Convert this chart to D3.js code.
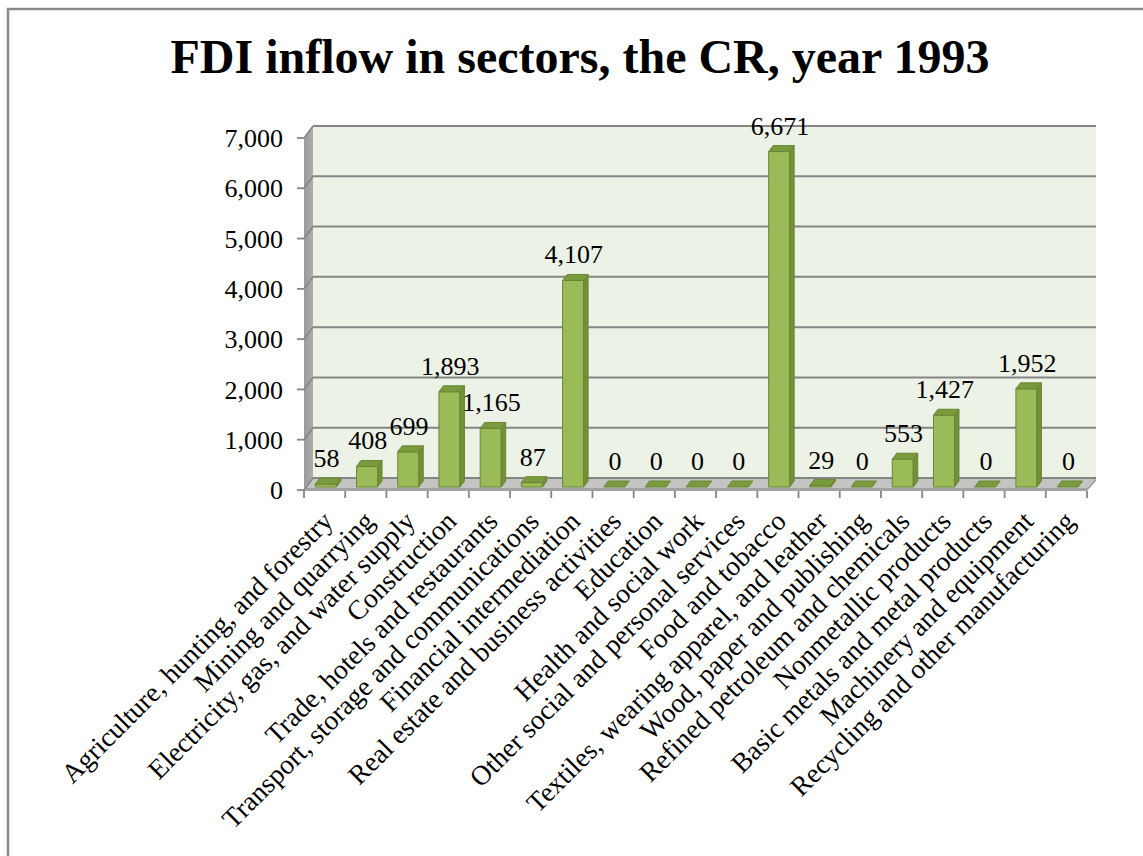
<!DOCTYPE html>
<html>
<head>
<meta charset="utf-8">
<script src="https://cdn.jsdelivr.net/npm/d3@7"></script>
<style>
  html, body { margin: 0; padding: 0; background: #ffffff; }
  svg { display: block; }
  text { font-family: "Liberation Serif", "Times New Roman", serif; fill: #000; }
</style>
</head>
<body>
<script>
// Sector categories (x axis)
const categories = [
  "Agriculture, hunting, and forestry",
  "Mining and quarrying",
  "Electricity, gas, and water supply",
  "Construction",
  "Trade, hotels and restaurants",
  "Transport, storage and communications",
  "Financial intermediation",
  "Real estate and business activities",
  "Education",
  "Health and social work",
  "Other social and personal services",
  "Food and tobacco",
  "Textiles, wearing apparel, and leather",
  "Wood, paper and publishing",
  "Refined petroleum and chemicals",
  "Nonmetallic products",
  "Basic metals and metal products",
  "Machinery and equipment",
  "Recycling and other manufacturing"
];

// FDI inflow per sector, 1993
const values = [58, 408, 699, 1893, 1165, 87, 4107, 0, 0, 0, 0, 6671, 29, 0, 553, 1427, 0, 1952, 0];

// Value axis ticks
const yTicks = [0, 1000, 2000, 3000, 4000, 5000, 6000, 7000];

const titleText = "FDI inflow in sectors, the CR, year 1993";

const W = 1143, H = 856;
const svg = d3.select("body").append("svg").attr("width", W).attr("height", H);

// Chart frame
svg.append("rect")
  .attr("x", 8).attr("y", 9).attr("width", 1160).attr("height", 870)
  .attr("fill", "#fff").attr("stroke", "#8a8a8a").attr("stroke-width", 2.5);

// Title
svg.append("text")
  .attr("x", 580).attr("y", 73)
  .attr("text-anchor", "middle")
  .style("font-size", "48px").style("font-weight", "bold")
  .text(titleText);

// Scales (front plane); depth offset for the 3D look
const xs = d3.scaleBand().domain(categories).range([304, 1087]).padding(0);
const ys = d3.scaleLinear().domain([0, 7000]).range([490, 138]);
const DX = 9, DY = -12;
const bw = xs.bandwidth();
const [xL, xR] = xs.range();

const g = svg.append("g");

// Back wall
g.append("rect")
  .attr("x", xL + DX).attr("y", ys(7000) + DY)
  .attr("width", xR - xL).attr("height", ys(0) - ys(7000))
  .attr("fill", "#edf2e7");

// Side wall
const sideGrad = svg.append("defs").append("linearGradient")
  .attr("id", "sideGrad").attr("x1", 0).attr("x2", 1).attr("y1", 0).attr("y2", 0);
sideGrad.append("stop").attr("offset", "0%").attr("stop-color", "#9a9a9a");
sideGrad.append("stop").attr("offset", "100%").attr("stop-color", "#adadad");
g.append("polygon")
  .attr("points", [
    [xL, ys(0)], [xL, ys(7000)], [xL + DX, ys(7000) + DY], [xL + DX, ys(0) + DY]
  ].map(p => p.join(",")).join(" "))
  .attr("fill", "url(#sideGrad)");

// Floor: top surface and front edge
g.append("polygon")
  .attr("points", [
    [xL, ys(0) - 2], [xR, ys(0) - 2], [xR + DX, ys(0) + DY], [xL + DX, ys(0) + DY]
  ].map(p => p.join(",")).join(" "))
  .attr("fill", "#c4c5c2");
g.append("polygon")
  .attr("points", [
    [xL, ys(0) - 2], [xR, ys(0) - 2], [xR + DX, ys(0) + DY], [xR + DX, ys(0) + DY + 3], [xR, ys(0) + 1], [xL, ys(0) + 1]
  ].map(p => p.join(",")).join(" "))
  .attr("fill", "#a2a3a0");

// Gridlines on back wall and side wall
yTicks.forEach(t => {
  g.append("line")
    .attr("x1", xL + DX).attr("x2", xR + DX)
    .attr("y1", ys(t) + DY).attr("y2", ys(t) + DY)
    .attr("stroke", "#858585").attr("stroke-width", 2);
  g.append("line")
    .attr("x1", xL).attr("x2", xL + DX)
    .attr("y1", ys(t)).attr("y2", ys(t) + DY)
    .attr("stroke", "#858585").attr("stroke-width", 1.5);
});

// Value axis ticks and labels
const fmt = d3.format(",");
yTicks.forEach(t => {
  g.append("line")
    .attr("x1", xL - 7).attr("x2", xL)
    .attr("y1", ys(t)).attr("y2", ys(t))
    .attr("stroke", "#858585").attr("stroke-width", 1.8);
  g.append("text")
    .attr("x", 283).attr("y", ys(t))
    .attr("dy", "0.35em")
    .attr("text-anchor", "end")
    .style("font-size", "26px")
    .text(fmt(t));
});

// Category axis ticks
const boundaries = categories.map(c => xs(c)).concat([xR]);
boundaries.forEach(x => {
  g.append("line")
    .attr("x1", x).attr("x2", x)
    .attr("y1", ys(0) + 1).attr("y2", ys(0) + 8)
    .attr("stroke", "#858585").attr("stroke-width", 1.8);
});

// 3D bars
const zF = 0.25, zB = 0.75;
const fdx = DX * zF, fdy = DY * zF, bdx = DX * zB, bdy = DY * zB;
const bars = g.append("g");
categories.forEach((c, i) => {
  const v = values[i];
  const x0 = xs(c) + 0.22 * bw, x1 = xs(c) + 0.73 * bw;
  const yT = ys(v), yB = ys(0);
  const bg = bars.append("g").attr("stroke", "#6a8733").attr("stroke-width", 1).attr("stroke-linejoin", "round");
  if (v > 0) {
    bg.append("rect")
      .attr("x", x0 + fdx).attr("y", yT + fdy)
      .attr("width", x1 - x0).attr("height", yB - yT)
      .attr("fill", "#9bbb59");
    bg.append("polygon")
      .attr("points", [
        [x1 + fdx, yB + fdy], [x1 + fdx, yT + fdy], [x1 + bdx, yT + bdy], [x1 + bdx, yB + bdy]
      ].map(p => p.join(",")).join(" "))
      .attr("fill", "#72903a");
  }
  bg.append("polygon")
    .attr("points", [
      [x0 + fdx, yT + fdy], [x1 + fdx, yT + fdy], [x1 + bdx, yT + bdy], [x0 + bdx, yT + bdy]
    ].map(p => p.join(",")).join(" "))
    .attr("fill", "#7a9a3e");
});

// Data labels
categories.forEach((c, i) => {
  g.append("text")
    .attr("x", xs(c) + bw / 2 + 2)
    .attr("y", ys(values[i]) - 20)
    .attr("text-anchor", "middle")
    .style("font-size", "26px")
    .text(fmt(values[i]));
});

// Rotated category labels
categories.forEach(c => {
  const cx = xs(c) + bw / 2;
  g.append("text")
    .attr("transform", `translate(${cx - 4},${509}) rotate(-45)`)
    .attr("dy", "0.71em")
    .attr("text-anchor", "end")
    .style("font-size", "27.5px")
    .text(c);
});
</script>
</body>
</html>
